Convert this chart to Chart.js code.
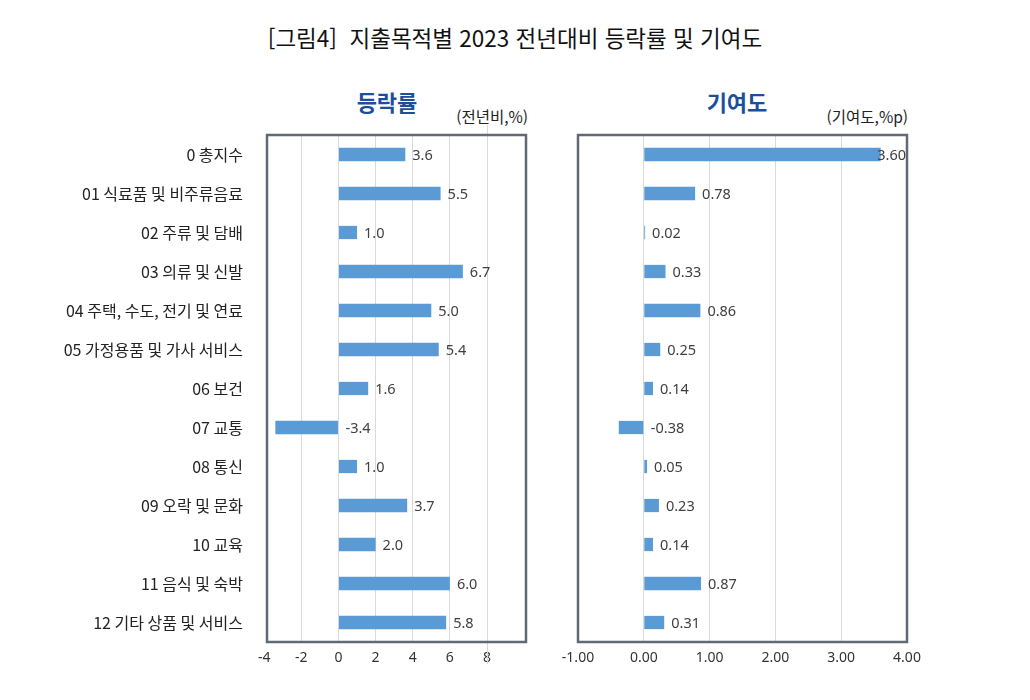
<!DOCTYPE html>
<html lang="ko">
<head>
<meta charset="utf-8">
<script src="https://cdn.jsdelivr.net/npm/chart.js@4.4.1/dist/chart.umd.min.js"></script>
<style>
  html, body { margin:0; padding:0; background:#fff; }
  #wrap { position:relative; width:1030px; height:700px; overflow:hidden; font-family:"Noto Sans CJK KR","Noto Sans",sans-serif; color:#222; }
  .abs { position:absolute; white-space:nowrap; }
  #title { left:0; width:1030px; top:20px; height:34px; line-height:34px; text-align:center; font-size:22.5px; color:#111; }
  .sec { font-size:22px; font-weight:bold; color:#1b4f9c; height:28px; line-height:28px; text-align:center; width:200px; }
  .unit { font-size:15.5px; color:#222; height:20px; line-height:20px; text-align:right; width:200px; }
  canvas { position:absolute; }
</style>
</head>
<body>
<div id="wrap">
  <div id="title" class="abs">[그림4]&nbsp; 지출목적별 2023 전년대비 등락률 및 기여도</div>
  <div class="abs sec" style="left:287px; top:87px;">등락률</div>
  <div class="abs sec" style="left:637px; top:87px;">기여도</div>
  <div class="abs unit" style="left:328px; top:106px;">(전년비,%)</div>
  <div class="abs unit" style="left:708px; top:106px;">(기여도,%p)</div>
  <canvas id="c1" width="540" height="580" style="left:0px; top:120px;"></canvas>
  <canvas id="c2" width="370" height="580" style="left:560px; top:120px;"></canvas>
</div>
<script>
const categories = ['0 총지수','01 식료품 및 비주류음료','02 주류 및 담배','03 의류 및 신발','04 주택, 수도, 전기 및 연료','05 가정용품 및 가사 서비스','06 보건','07 교통','08 통신','09 오락 및 문화','10 교육','11 음식 및 숙박','12 기타 상품 및 서비스'];
const rateValues = [3.6, 5.5, 1.0, 6.7, 5.0, 5.4, 1.6, -3.4, 1.0, 3.7, 2.0, 6.0, 5.8];
const contribValues = [3.60, 0.78, 0.02, 0.33, 0.86, 0.25, 0.14, -0.38, 0.05, 0.23, 0.14, 0.87, 0.31];
const rateTicks = [-4, -2, 0, 2, 4, 6, 8];
const contribTicks = [-1, 0, 1, 2, 3, 4];
const rateRange = { min: -3.85, max: 10.1 };
const contribRange = { min: -1, max: 4 };
const rateDecimals = 1;
const contribDecimals = 2;

const BAR = '#5b9bd5';
const GRID = '#d9d9d9';
const FRAME = '#5f6a75';

const framePlugin = {
  id: 'frame',
  afterDraw(chart, args, o) {
    const {ctx, chartArea: a, scales} = chart;
    ctx.save();
    if (o.extraLineAt !== undefined) {
      const x = Math.round(scales.x.getPixelForValue(o.extraLineAt)) + 0.5;
      ctx.strokeStyle = GRID; ctx.lineWidth = 1;
      ctx.beginPath(); ctx.moveTo(x, a.top - 10); ctx.lineTo(x, a.bottom + 22); ctx.stroke();
    }
    ctx.strokeStyle = FRAME; ctx.lineWidth = 2.5;
    ctx.strokeRect(a.left, a.top, a.right - a.left, a.bottom - a.top);
    const meta = chart.getDatasetMeta(0);
    const data = chart.data.datasets[0].data;
    ctx.font = '14.5px "Noto Sans", sans-serif';
    ctx.fillStyle = '#404040';
    ctx.textBaseline = 'middle';
    ctx.textAlign = 'left';
    meta.data.forEach((bar, i) => {
      const v = data[i];
      const txt = v.toFixed(o.decimals);
      const w = ctx.measureText(txt).width;
      const base = scales.x.getPixelForValue(Math.max(v, 0));
      let x = base + 7;
      if (x + w > a.right - 1) x = a.right - 1 - w;
      ctx.fillText(txt, x, bar.y + 1);
    });
    ctx.restore();
  }
};

function makeChart(id, values, range, tickVals, decimals, showCats, yWidth, padRight, extraLine) {
  return new Chart(document.getElementById(id), {
    type: 'bar',
    data: { labels: categories, datasets: [{ data: values, backgroundColor: BAR, barPercentage: 0.34, categoryPercentage: 1.0 }] },
    options: {
      indexAxis: 'y',
      responsive: false,
      animation: false,
      layout: { padding: { top: 15, right: padRight, left: 0, bottom: 30 } },
      plugins: { legend: { display: false }, tooltip: { enabled: false },
        frame: { decimals: decimals, extraLineAt: extraLine } },
      scales: {
        x: {
          min: range.min, max: range.max,
          afterBuildTicks: (s) => { s.ticks = tickVals.map(v => ({ value: v })); },
          ticks: { color: '#333', font: { size: 14, family: '"Noto Sans", sans-serif' }, padding: 8,
            callback: (v) => Number(v).toFixed(decimals === 2 ? 2 : 0) },
          grid: { color: (c) => (c.tick && c.tick.value < range.min) ? 'rgba(0,0,0,0)' : GRID, drawTicks: false, lineWidth: 1 },
          border: { display: false },
          afterFit: (s) => { s.height = 28; s.paddingLeft = 0; s.paddingRight = 0; }
        },
        y: {
          ticks: { display: showCats, color: '#222', padding: 24, font: { size: 16, family: '"Noto Sans CJK KR", sans-serif' } },
          grid: { display: false, drawTicks: false },
          border: { display: false },
          afterFit: (s) => { s.width = yWidth; s.paddingTop = 0; s.paddingBottom = 0; }
        }
      }
    },
    plugins: [framePlugin]
  });
}

makeChart('c1', rateValues, rateRange, rateTicks, rateDecimals, true, 267, 14, 8);
makeChart('c2', contribValues, contribRange, contribTicks, contribDecimals, false, 18, 23, undefined);
</script>
</body>
</html>
